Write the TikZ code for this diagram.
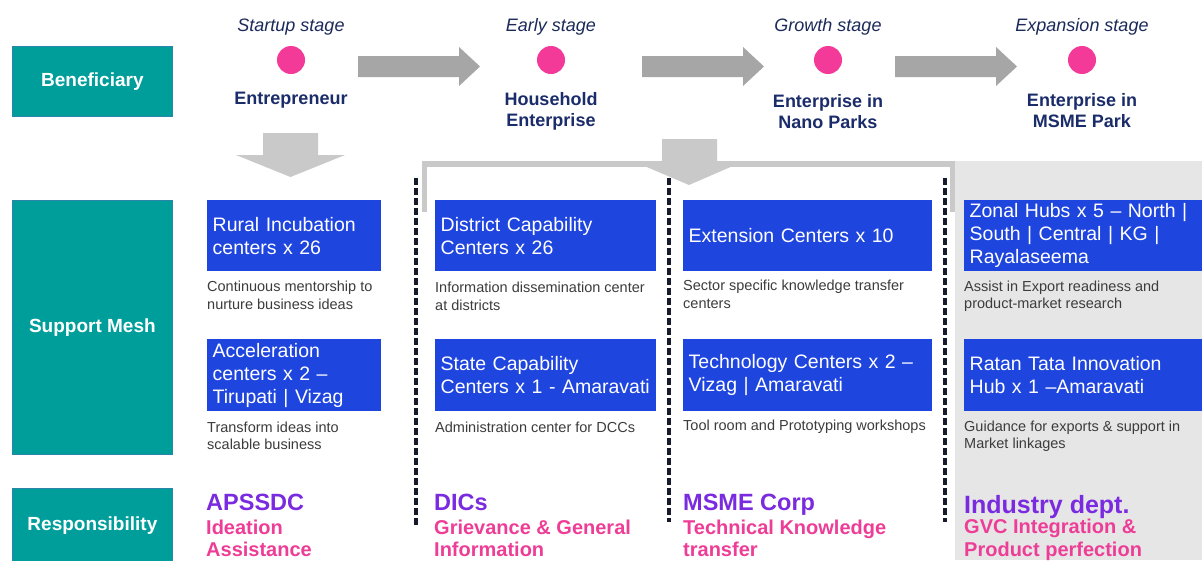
\documentclass[tikz,border=0pt]{standalone}
\usepackage{fontspec}
\setmainfont{Liberation Sans}
\definecolor{tealA}{HTML}{009E9A}
\definecolor{tealB}{HTML}{2A86A8}
\definecolor{boxblue}{HTML}{1F45DF}
\definecolor{dotpink}{HTML}{F33A98}
\definecolor{navyA}{HTML}{1B2C6B}
\definecolor{stagec}{HTML}{1C2A5A}
\definecolor{descgray}{HTML}{3C3C3C}
\definecolor{purpleA}{HTML}{7A2BDF}
\definecolor{pinktxt}{HTML}{EE3D97}
\definecolor{arrowgray}{HTML}{A6A6A6}
\definecolor{lightgray2}{HTML}{C9C9C9}
\definecolor{panelgray}{HTML}{E6E6E6}
\definecolor{dashc}{HTML}{151B2B}
\hyphenpenalty=10000
\exhyphenpenalty=10000
\newcommand{\rarrowshape}[2]{% start x, name
  \fill[arrowgray] (#1,56) -- (#1+101,56) -- (#1+101,47) -- (#1+122,66.5) -- (#1+101,86) -- (#1+101,77) -- (#1,77) -- cycle;}
\begin{document}
\begin{tikzpicture}[x=1pt,y=-1pt,
  hdr/.style={fill=tealA, draw=tealB, line width=0.8pt, text=white, font=\bfseries\fontsize{19}{22}\selectfont, inner sep=0pt, anchor=north west, minimum width=160pt},
  stagetxt/.style={text=stagec, font=\itshape\fontsize{18}{21}\selectfont, inner sep=0pt},
  dotnode/.style={circle, fill=dotpink, minimum size=28pt, inner sep=0pt},
  lbl/.style={text=navyA, font=\bfseries\fontsize{18}{21}\selectfont, align=center, inner sep=0pt},
  bbox/.style={fill=boxblue, text=white, font=\fontsize{19.5}{23}\selectfont, align=left, inner xsep=5.5pt, inner ysep=0pt, anchor=north west},
  desc/.style={text=descgray, font=\fontsize{14.5}{17.5}\selectfont, align=left, anchor=west, inner sep=0pt},
  ttl/.style={text=purpleA, font=\bfseries\fontsize{23.5}{26}\selectfont, anchor=base west, inner sep=0pt},
  sub/.style={text=pinktxt, font=\bfseries\fontsize{20}{22.5}\selectfont, align=left, anchor=west, inner sep=0pt},
  divider/.style={draw=dashc, line width=3.5pt, dash pattern=on 7pt off 3pt},
  bracket/.style={draw=lightgray2, line width=5.5pt, miter limit=10},
  downarrow/.style={fill=lightgray2}
]
\useasboundingbox (0,0) rectangle (1202,560);
\fill[white] (0,0) rectangle (1202,560);
% right-hand panel
\fill[panelgray] (955,161) rectangle (1202,560);

% row headers
\node[hdr, minimum height=70pt] (benef) at (12,46) {Beneficiary};
\node[hdr, minimum height=254pt] (support) at (12,200) {Support Mesh};
\node[hdr, minimum height=74pt] (resp) at (12,488) {Responsibility};

% stages
\node[stagetxt] (s1) at (291,27) {Startup stage};
\node[stagetxt] (s2) at (551,27) {Early stage};
\node[stagetxt] (s3) at (828,27) {Growth stage};
\node[stagetxt] (s4) at (1082,27) {Expansion stage};
\node[dotnode] (d1) at (291,60) {};
\node[dotnode] (d2) at (551,60) {};
\node[dotnode] (d3) at (828,60) {};
\node[dotnode] (d4) at (1082,60) {};
\node[lbl] (l1) at (291,100) {Entrepreneur};
\node[lbl] (l2) at (551,111) {Household\\Enterprise};
\node[lbl] (l3) at (828,111.5) {Enterprise in\\Nano Parks};
\node[lbl] (l4) at (1082,110.5) {Enterprise in\\MSME Park};

% block arrows between stages
\rarrowshape{358}{a1}
\rarrowshape{642}{a2}
\rarrowshape{895}{a3}

% down arrows
\fill[downarrow] (263,133) -- (318,133) -- (318,155) -- (345,155) -- (290.5,177) -- (236,155) -- (263,155) -- cycle;
\draw[bracket] (424.5,212) -- (424.5,164) -- (952.5,164) -- (952.5,212);
\fill[downarrow] (662,139) -- (717,139) -- (717,162) -- (742,162) -- (689,185) -- (635,162) -- (662,162) -- cycle;

% dividers
\draw[divider] (416,178) -- (416,525);
\draw[divider] (669,178) -- (669,522);
\draw[divider] (945,178) -- (945,522);

% support boxes
\node[bbox, minimum width=174pt, minimum height=71pt, text width=163pt] (c1a) at (207,200) {Rural Incubation\\centers x 26};
\node[bbox, minimum width=174pt, minimum height=72pt, text width=163pt] (c1b) at (207,339) {Acceleration\\centers x 2 –\\Tirupati | Vizag};
\node[bbox, minimum width=221pt, minimum height=71pt, text width=210pt] (c2a) at (435,200) {District Capability\\Centers x 26};
\node[bbox, minimum width=221pt, minimum height=72pt, text width=210pt] (c2b) at (435,339) {State Capability\\\mbox{Centers x 1 - Amaravati}};
\node[bbox, minimum width=249pt, minimum height=71pt, text width=238pt] (c3a) at (683,200) {Extension Centers x 10};
\node[bbox, minimum width=249pt, minimum height=72pt, text width=238pt] (c3b) at (683,339) {Technology Centers x 2 –\\Vizag | Amaravati};
\node[bbox, minimum width=260pt, minimum height=71pt, text width=249pt] (c4a) at (964,200) {\mbox{Zonal Hubs x 5 – North |}\\South | Central | KG |\\Rayalaseema};
\node[bbox, minimum width=260pt, minimum height=72pt, text width=249pt] (c4b) at (964,339) {Ratan Tata Innovation\\Hub x 1 –Amaravati};

% descriptions
\node[desc] (t1a) at (207,295.5) {Continuous mentorship to\\nurture business ideas};
\node[desc] (t1b) at (207,436) {Transform ideas into\\scalable business};
\node[desc] (t2a) at (435,296.5) {Information dissemination center\\at districts};
\node[desc] (t2b) at (435,427) {Administration center for DCCs};
\node[desc] (t3a) at (683,294.5) {Sector specific knowledge transfer\\centers};
\node[desc] (t3b) at (683,427) {Tool room and Prototyping workshops};
\node[desc] (t4a) at (964,296) {Assist in Export readiness and\\product-market research};
\node[desc] (t4b) at (964,436) {Guidance for exports \& support in\\Market linkages};

% responsibilities
\node[ttl] (r1) at (206,510.5) {APSSDC};
\node[ttl] (r2) at (434,510.5) {DICs};
\node[ttl] (r3) at (683,510.5) {MSME Corp};
\node[ttl, font=\bfseries\fontsize{25}{28}\selectfont] (r4) at (964,513) {Industry dept.};
\node[sub] (p1) at (206,538.5) {Ideation\\Assistance};
\node[sub] (p2) at (434,538.5) {Grievance \& General\\Information};
\node[sub] (p3) at (683,538.5) {Technical Knowledge\\transfer};
\node[sub] (p4) at (964,540) {GVC Integration \&\\Product perfection};
\end{tikzpicture}
\end{document}
